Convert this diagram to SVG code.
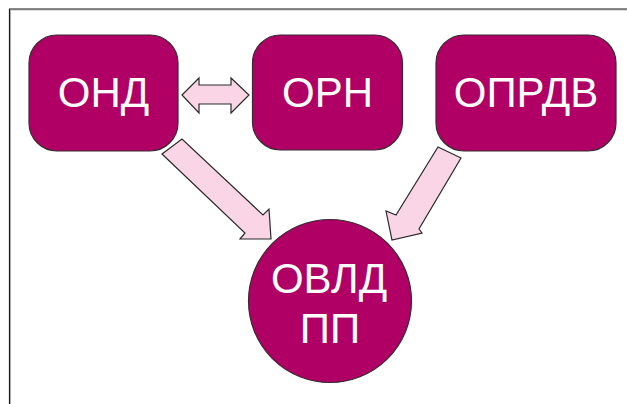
<svg xmlns="http://www.w3.org/2000/svg" width="627" height="404" viewBox="0 0 627 404">
  <style>
    .node { fill: #b00066; stroke: #3a2a30; stroke-width: 1.2; }
    .label { fill: #ffffff; font-family: "Liberation Sans", Arial, sans-serif; font-size: 42px; text-anchor: middle; }
    .arrow { fill: #f9d5e5; stroke: #2a2a2a; stroke-width: 1.2; stroke-linejoin: miter; }
  </style>
  <rect width="627" height="404" fill="#ffffff"/>
  <!-- page frame -->
  <path d="M10.5 404 V10 H627" fill="none" stroke="#bdbdbd" stroke-width="1"/>
  <path d="M9.5 404 V9 H627" fill="none" stroke="#1a1a1a" stroke-width="1.2"/>

  <g id="connectors">
    <polygon class="arrow" points="182,95 199,78 199,85 231,85 231,78 249,95 231,113 231,104 199,104 199,113"/>
    <polygon class="arrow" points="162,154 182,139 263,215 269,209 271,239 240,239 245,233"/>
    <polygon class="arrow" points="461,158 438,147 396,215 386,211 392,240 422,233 419,229"/>
  </g>

  <g id="ond">
    <rect class="node" x="29" y="35" width="149" height="116" rx="28" ry="28"/>
    <text class="label" x="103.5" y="107">ОНД</text>
  </g>
  <g id="orn">
    <rect class="node" x="252.5" y="35" width="150" height="115" rx="28" ry="28"/>
    <text class="label" x="327.5" y="107">ОРН</text>
  </g>
  <g id="oprdv">
    <rect class="node" x="436" y="35" width="180" height="116" rx="28" ry="28"/>
    <text class="label" x="526" y="107">ОПРДВ</text>
  </g>
  <g id="ovld">
    <circle class="node" cx="330" cy="301" r="81.5"/>
    <text class="label" x="329" y="293">ОВЛД</text>
    <text class="label" x="330" y="343">ПП</text>
  </g>
</svg>
